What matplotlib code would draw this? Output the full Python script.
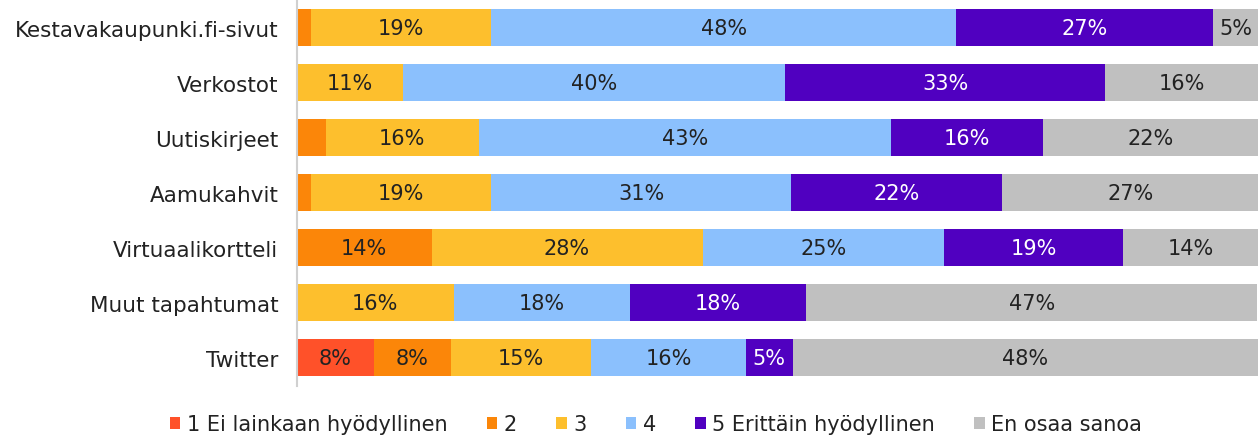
import matplotlib.pyplot as plt
from matplotlib.patches import Patch

plt.rcParams['font.family'] = ['DejaVu Sans']

# values in percent
categories = ["Kestavakaupunki.fi-sivut", "Verkostot", "Uutiskirjeet", "Aamukahvit",
              "Virtuaalikortteli", "Muut tapahtumat", "Twitter"]
series_names = ["1 Ei lainkaan hyödyllinen", "2", "3", "4", "5 Erittäin hyödyllinen", "En osaa sanoa"]
ans1 = [0.0, 0.0, 0.0, 0.0, 0.0, 0.0, 8.0]
ans2 = [1.5, 0.0, 3.0, 1.5, 14.0, 0.0, 8.0]
ans3 = [18.7, 11.0, 15.9, 18.7, 28.2, 16.3, 14.6]
ans4 = [48.4, 39.8, 42.9, 31.2, 25.1, 18.3, 16.1]
ans5 = [26.7, 33.3, 15.8, 22.0, 18.7, 18.4, 4.9]
eos = [4.7, 15.9, 22.4, 26.6, 14.0, 46.9, 48.4]
colors = ["#ff5129", "#fb8609", "#fdbf2d", "#8bc0fd", "#5000c0", "#c0c0c0"]
text_colors = ["#222222", "#222222", "#222222", "#222222", "white", "#222222"]

fig = plt.figure(figsize=(12.58, 4.39), dpi=100)
ax = fig.add_axes([297 / 1258, 1 - 387 / 439, 1 - 297 / 1258, 387 / 439])

y = list(range(len(categories)))
left = [0.0] * len(categories)
for vals, col, tc in zip([ans1, ans2, ans3, ans4, ans5, eos], colors, text_colors):
    ax.barh(y, vals, left=left, height=0.67, color=col, edgecolor="none")
    for i, v in enumerate(vals):
        if v >= 4.5:
            ax.text(left[i] + v / 2, i, f"{round(v):.0f}%", ha="center", va="center",
                    color=tc, fontsize=15)
    left = [l + v for l, v in zip(left, vals)]

ax.set_xlim(0, 100)
ax.set_ylim(6.51, -0.52)
ax.set_yticks(y)
ax.set_yticklabels(categories, fontsize=15.5, color="#222222")
ax.tick_params(axis="y", length=0, pad=13.5)
ax.set_xticks([])
for s in ["top", "right", "bottom"]:
    ax.spines[s].set_visible(False)
ax.spines["left"].set_color("#d0d0d0")
ax.spines["left"].set_linewidth(1.5)

handles = [Patch(facecolor=c, edgecolor="none") for c in colors]
fig.legend(handles, series_names, loc="center", bbox_to_anchor=(656 / 1258, 1 - 425 / 439),
           ncol=6, frameon=False, fontsize=15, handlelength=0.5, handleheight=0.5,
           handletextpad=0.3, columnspacing=1.9, labelcolor="#222222")

fig.savefig("out.png", dpi=100)
